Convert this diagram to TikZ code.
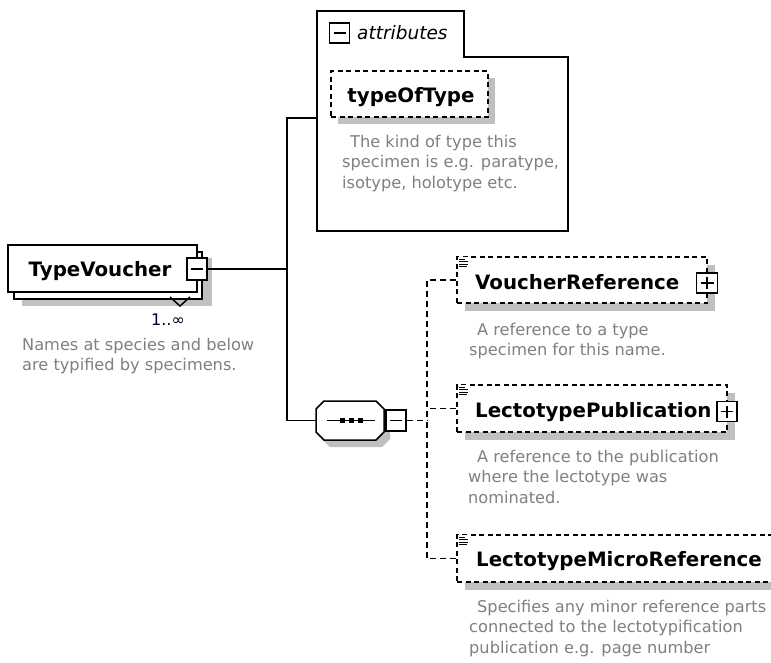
\documentclass[tikz,border=0pt]{standalone}
\usepackage{fontspec}
\setmainfont{DejaVu Sans}
\definecolor{shadowgray}{RGB}{192,192,192}
\definecolor{desc}{RGB}{128,128,128}
\tikzset{
  conn/.style={line width=1.5pt},
  dconn/.style={line width=1.5pt, dash pattern=on 6pt off 4pt},
  plainbox/.style={draw, line width=1.5pt, fill=white, inner sep=0pt},
  elembox/.style={draw, line width=1.5pt, dash pattern=on 5pt off 3.5pt, fill=white, inner sep=0pt},
  desctext/.style={text=desc, anchor=base west, align=left, inner sep=0pt, font=\fontsize{16.2}{20.5}\selectfont},
  nametext/.style={anchor=base west, inner sep=0pt, font=\bfseries\fontsize{19.8}{24}\selectfont},
  pmbox/.style={draw, line width=1.5pt, fill=white, minimum width=20pt, minimum height=20pt, inner sep=0pt},
  minussign/.style={path picture={\draw[line width=1.3pt] ([xshift=4pt]path picture bounding box.west) -- ([xshift=-4pt]path picture bounding box.east);}},
  plussign/.style={path picture={\draw[line width=1.3pt] ([xshift=4pt]path picture bounding box.west) -- ([xshift=-4pt]path picture bounding box.east) ([yshift=-4pt]path picture bounding box.north) -- ([yshift=4pt]path picture bounding box.south);}},
  docicon/.pic={\fill[white] (-1,-1) rectangle (11,11);
    \draw[line width=0.9pt] (0,1)--(6,1) (0,3.5)--(9,3.5) (0,6)--(9,6) (0,8.5)--(8,8.5);}
}
\begin{document}
\begin{tikzpicture}[x=1pt,y=-1pt]
\useasboundingbox[fill=white] (0,0) rectangle (771,662);

% ---------- TypeVoucher ----------
\fill[shadowgray] (22,258) rectangle (212,306);
\node[plainbox, minimum width=188pt, minimum height=47pt] (tvback) at (108,275.5) {};
\draw[conn] (170,297) -- (180,306) -- (190,297);
\node[plainbox, minimum width=189pt, minimum height=47pt] (tv) at (102.5,268.5) {};
\node[nametext, anchor=base] (tvl) at (100,276) {TypeVoucher};
\node[pmbox, minussign, minimum height=22pt] (tvm) at (197,269) {};
\node[inner sep=0pt, text=black!85!blue, font=\fontsize{16}{18}\selectfont] (card) at (168,320) {1..∞};
\node[desctext] (tvd) at (22,370.5) {Names at species and below\\are typified by specimens.};

% ---------- attributes ----------
\draw[conn, fill=white] (317,11) -- (464,11) -- (464,57) -- (568,57) -- (568,231) -- (317,231) -- cycle;
\coordinate (attin) at (317,118);
\node[pmbox, minussign] (attm) at (339.5,33) {};
\node[anchor=base west, inner sep=0pt, font=\itshape\fontsize{18.5}{22}\selectfont] (attl) at (357,39.5) {attributes};
\fill[shadowgray] (338,78) rectangle (495,124);
\node[elembox, minimum width=157pt, minimum height=46pt] (tot) at (409.5,94) {};
\node[nametext, anchor=base] (totl) at (411,102) {typeOfType};
\node[desctext] (totd) at (342,188) {\hspace*{8pt}The kind of type this\\specimen is e.g. paratype,\\isotype, holotype etc.};

% ---------- sequence compositor ----------
\fill[shadowgray] (330,408) -- (382,408) -- (390,416) -- (390,439) -- (382,447) -- (330,447) -- (322,439) -- (322,416) -- cycle;
\draw[conn, fill=white] (324,401) -- (376,401) -- (384,409) -- (384,432) -- (376,440) -- (324,440) -- (316,432) -- (316,409) -- cycle;
\node[inner sep=0pt, minimum width=68pt, minimum height=39pt] (seq) at (350,420.5) {};
\draw[line width=1.3pt] (327,420.5) -- (375,420.5);
\foreach \sx in {342,351,360} {\fill (\sx-2.5,418) rectangle (\sx+2.5,423);}
\node[pmbox, minussign, minimum height=21pt] (seqm) at (396,420.5) {};

% ---------- child elements ----------
\fill[shadowgray] (465,265) rectangle (715,311);
\node[elembox, minimum width=250pt, minimum height=46pt] (vr) at (582,280) {};
\pic at ([shift={(3,2)}]vr.north west) {docicon};
\node[nametext] (vrl) at (475,289) {VoucherReference};
\node[pmbox, plussign, minimum width=21pt] (vrp) at (707,283) {};
\node[desctext] (vrd) at (469,355.5) {\hspace*{8pt}A reference to a type\\specimen for this name.};

\fill[shadowgray] (465,393) rectangle (735,440);
\node[elembox, minimum width=270pt, minimum height=47pt] (lp) at (592,408.5) {};
\pic at ([shift={(3,2)}]lp.north west) {docicon};
\node[nametext] (lpl) at (475,417) {LectotypePublication};
\node[pmbox, plussign] (lpp) at (727,411.5) {};
\node[desctext] (lpd) at (468,503) {\hspace*{9pt}A reference to the publication\\where the lectotype was\\nominated.};

\fill[shadowgray] (465,543) rectangle (790,590);
\node[elembox, minimum width=330pt, minimum height=47pt] (lmr) at (622,558.5) {};
\pic at ([shift={(3,2)}]lmr.north west) {docicon};
\node[nametext] (lmrl) at (476,566) {LectotypeMicroReference};
\node[desctext] (lmrd) at (469,653) {\hspace*{8pt}Specifies any minor reference parts\\connected to the lectotypification\\publication e.g. page number};

% ---------- connectors ----------
\coordinate (jm) at (287,269);
\coordinate (jt) at (287,118);
\coordinate (jb) at (287,420.5);
\draw[conn] (tvm.east) -- (jm);
\draw[conn] (attin) -- (jt) -- (jb) -- (seq.west);
\coordinate (dj) at (427,420.5);
\draw[dconn] (seqm.east) -- (dj);
\draw[dconn] (vr.west) -| (dj);
\draw[dconn] (lmr.west) -| (dj);
\draw[dconn] (lp.west) -- (lp.west -| dj);
\end{tikzpicture}
\end{document}
